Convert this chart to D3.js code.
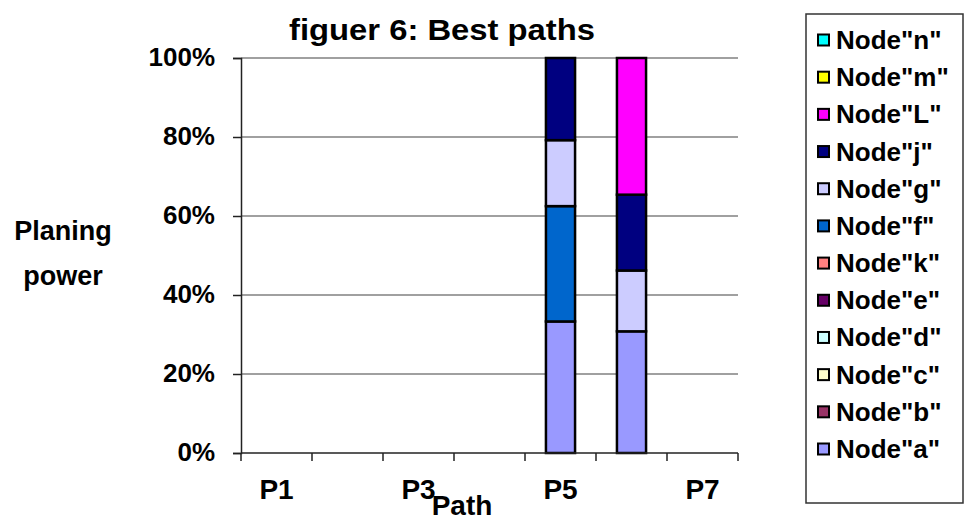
<!DOCTYPE html>
<html>
<head>
<meta charset="utf-8">
<script src="https://cdn.jsdelivr.net/npm/d3@7"></script>
<style>
  html, body { margin: 0; padding: 0; background: #fff; }
  svg { display: block; font-family: "Liberation Sans", Arial, sans-serif; font-weight: bold; }
</style>
</head>
<body>
<svg id="chart" width="964" height="515"></svg>
<script>
// Paths on the category axis; only every other one carries a label
const paths = ["P1", "P2", "P3", "P4", "P5", "P6", "P7"];
const shownPathLabels = ["P1", "P3", "P5", "P7"];

// Nodes in stacking order (bottom to top)
const nodes = ["a", "b", "c", "d", "e", "k", "f", "g", "j", "L", "m", "n"];
const nodeColors = ["#9999FF", "#993366", "#FFFFCC", "#CCFFFF", "#660066", "#FF8080",
                    "#0066CC", "#CCCCFF", "#000080", "#FF00FF", "#FFFF00", "#00FFFF"];

// Share of planing power per node (%), one array per node, indexed by path
const nodeA = [0, 0, 0, 0, 33.3, 30.8, 0];
const nodeB = [0, 0, 0, 0, 0, 0, 0];
const nodeC = [0, 0, 0, 0, 0, 0, 0];
const nodeD = [0, 0, 0, 0, 0, 0, 0];
const nodeE = [0, 0, 0, 0, 0, 0, 0];
const nodeK = [0, 0, 0, 0, 0, 0, 0];
const nodeF = [0, 0, 0, 0, 29.2, 0, 0];
const nodeG = [0, 0, 0, 0, 16.7, 15.4, 0];
const nodeJ = [0, 0, 0, 0, 20.8, 19.2, 0];
const nodeL = [0, 0, 0, 0, 0, 34.6, 0];
const nodeM = [0, 0, 0, 0, 0, 0, 0];
const nodeN = [0, 0, 0, 0, 0, 0, 0];
const nodeValues = [nodeA, nodeB, nodeC, nodeD, nodeE, nodeK, nodeF, nodeG, nodeJ, nodeL, nodeM, nodeN];

const yTicks = [0, 0.2, 0.4, 0.6, 0.8, 1.0];

const svg = d3.select("#chart");
const plot = { left: 241, right: 738, top: 58, bottom: 453 };
const FONT = "Liberation Sans, Arial, sans-serif";

// Table of rows for the stack layout
const rows = paths.map((p, i) => {
  const r = { path: p };
  nodes.forEach((n, j) => { r[n] = nodeValues[j][i]; });
  return r;
});

// Normalise each path to 100%
const stack = d3.stack().keys(nodes).offset(d3.stackOffsetExpand);
const series = stack(rows);

const x = d3.scaleBand().domain(paths).range([plot.left, plot.right]).paddingInner(0).paddingOuter(0);
const y = d3.scaleLinear().domain([0, 1]).range([plot.bottom, plot.top]);
const color = d3.scaleOrdinal().domain(nodes).range(nodeColors);

// Horizontal gridlines
svg.append("g")
  .selectAll("line")
  .data(yTicks.filter(t => t > 0))
  .join("line")
  .attr("x1", plot.left).attr("x2", plot.right)
  .attr("y1", d => y(d)).attr("y2", d => y(d))
  .attr("stroke", "#808080").attr("stroke-width", 1.5);

// Stacked bars
const barWidth = x.bandwidth() * 0.41;
svg.append("g")
  .selectAll("g")
  .data(series)
  .join("g")
  .attr("fill", d => color(d.key))
  .selectAll("rect")
  .data(d => d.filter(s => (s[1] - s[0]) > 0 && !isNaN(s[1])))
  .join("rect")
  .attr("x", d => x(d.data.path) + (x.bandwidth() - barWidth) / 2)
  .attr("width", barWidth)
  .attr("y", d => y(d[1]))
  .attr("height", d => y(d[0]) - y(d[1]))
  .attr("stroke", "#000").attr("stroke-width", 2.5);

// Y axis
const yAxis = d3.axisLeft(y).tickValues(yTicks).tickFormat(d3.format(".0%")).tickSize(8).tickPadding(18);
const gy = svg.append("g").attr("transform", `translate(${plot.left},0)`).call(yAxis);
gy.select(".domain").attr("stroke", "#222").attr("stroke-width", 1.5);
gy.selectAll(".tick line").attr("stroke", "#222").attr("stroke-width", 1.5);
gy.selectAll(".tick text")
  .attr("font-family", FONT)
  .attr("font-weight", "bold").attr("font-size", 26).attr("fill", "#000")
  .attr("dy", "0.3em");

// X axis: ticks on category boundaries
const boundaries = paths.map(p => x(p)).concat([plot.right]);
svg.append("line")
  .attr("x1", plot.left).attr("x2", plot.right)
  .attr("y1", plot.bottom).attr("y2", plot.bottom)
  .attr("stroke", "#222").attr("stroke-width", 1.5);
svg.append("g")
  .selectAll("line")
  .data(boundaries)
  .join("line")
  .attr("x1", d => d).attr("x2", d => d)
  .attr("y1", plot.bottom).attr("y2", plot.bottom + 8)
  .attr("stroke", "#222").attr("stroke-width", 1.5);
svg.append("g")
  .selectAll("text")
  .data(shownPathLabels)
  .join("text")
  .attr("x", d => x(d) + x.bandwidth() / 2)
  .attr("y", 499)
  .attr("text-anchor", "middle")
  .attr("font-size", 28)
  .text(d => d);

// Axis titles and chart title
svg.append("text").attr("x", 462).attr("y", 515).attr("text-anchor", "middle")
  .attr("font-size", 28).text("Path");
svg.append("text").attr("x", 63).attr("y", 240).attr("text-anchor", "middle")
  .attr("font-size", 27).text("Planing");
svg.append("text").attr("x", 63).attr("y", 285).attr("text-anchor", "middle")
  .attr("font-size", 27).text("power");
svg.append("text").attr("x", 442).attr("y", 40).attr("text-anchor", "middle")
  .attr("font-size", 30)
  .attr("textLength", 306).attr("lengthAdjust", "spacingAndGlyphs")
  .text("figuer 6: Best paths");

// Legend: top entry is the last stacked node
const legend = svg.append("g");
legend.append("rect")
  .attr("x", 806).attr("y", 14).attr("width", 157).attr("height", 489)
  .attr("fill", "#fff").attr("stroke", "#333").attr("stroke-width", 1.5);
const legendNodes = nodes.slice().reverse();
const ly = d3.scalePoint().domain(legendNodes).range([40, 449]);
const item = legend.selectAll("g.item")
  .data(legendNodes)
  .join("g").attr("class", "item")
  .attr("transform", d => `translate(0,${ly(d)})`);
item.append("rect")
  .attr("x", 818).attr("y", -5.5).attr("width", 11).attr("height", 11)
  .attr("fill", d => color(d)).attr("stroke", "#000").attr("stroke-width", 2);
item.append("text")
  .attr("x", 836).attr("y", 9)
  .attr("font-size", 26)
  .text(d => `Node"${d}"`);
</script>
</body>
</html>
